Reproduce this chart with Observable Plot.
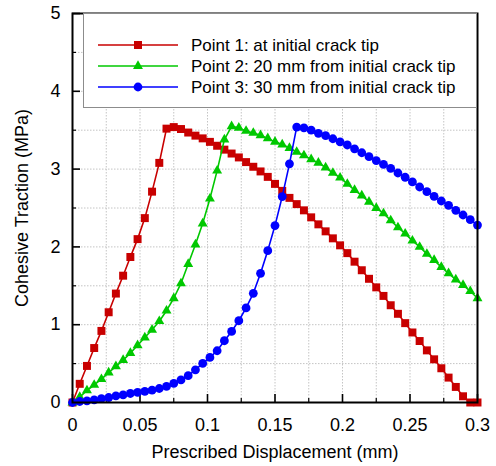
<!DOCTYPE html>
<html><head><meta charset="utf-8">
<script src="https://cdn.jsdelivr.net/npm/d3@7"></script>
<script src="https://cdn.jsdelivr.net/npm/@observablehq/plot@0.6"></script>
<style>
body{margin:0;background:#fff;font-family:"Liberation Sans",Arial,sans-serif;}
#wrap{position:relative;width:496px;height:466px;overflow:hidden;}
#legend{position:absolute;left:83px;top:13px;width:394px;height:95px;box-sizing:border-box;background:#fff;border:1px solid #8c8c8c;}
</style></head><body>
<div id="wrap"><div id="chart"></div><svg id="legend" width="394" height="95"></svg></div>
<script>
// Prescribed displacement (mm)
const displacement = [0, 0.00536, 0.01071, 0.01607, 0.02143, 0.02679, 0.03214, 0.0375, 0.04286, 0.04821,
  0.05357, 0.05893, 0.06429, 0.06964, 0.075, 0.08036, 0.08571, 0.09107, 0.09643, 0.10179,
  0.10714, 0.1125, 0.11786, 0.12321, 0.12857, 0.13393, 0.13929, 0.14464, 0.15, 0.15536,
  0.16071, 0.16607, 0.17143, 0.17679, 0.18214, 0.1875, 0.19286, 0.19821, 0.20357, 0.20893,
  0.21429, 0.21964, 0.225, 0.23036, 0.23571, 0.24107, 0.24643, 0.25179, 0.25714, 0.2625,
  0.26786, 0.27321, 0.27857, 0.28393, 0.28929, 0.29464, 0.3];
// Cohesive traction (MPa)
const point1 = [0, 0.24, 0.47, 0.70, 0.92, 1.16, 1.40, 1.63, 1.87, 2.10,
  2.37, 2.71, 3.08, 3.52, 3.54, 3.515, 3.47, 3.43, 3.395, 3.35,
  3.30, 3.25, 3.20, 3.15, 3.09, 3.03, 2.97, 2.90, 2.81, 2.72,
  2.63, 2.55, 2.47, 2.38, 2.29, 2.20, 2.11, 2.02, 1.92, 1.81,
  1.70, 1.59, 1.48, 1.37, 1.25, 1.14, 1.02, 0.90, 0.79, 0.67,
  0.555, 0.44, 0.32, 0.20, 0.08, 0, 0];
const point2 = [0, 0.07, 0.155, 0.225, 0.30, 0.385, 0.465, 0.545, 0.635, 0.735,
  0.835, 0.935, 1.045, 1.18, 1.34, 1.53, 1.78, 2.03, 2.30, 2.62,
  2.98, 3.38, 3.55, 3.53, 3.49, 3.465, 3.435, 3.395, 3.35, 3.315,
  3.27, 3.22, 3.175, 3.125, 3.08, 3.02, 2.95, 2.89, 2.81, 2.73,
  2.66, 2.58, 2.50, 2.43, 2.34, 2.25, 2.17, 2.08, 2.00, 1.91,
  1.83, 1.74, 1.66, 1.58, 1.51, 1.43, 1.34];
const point3 = [0, 0.013, 0.022, 0.035, 0.05, 0.064, 0.085, 0.099, 0.116, 0.129,
  0.142, 0.159, 0.18, 0.206, 0.245, 0.29, 0.345, 0.42, 0.502, 0.579,
  0.665, 0.794, 0.914, 1.051, 1.215, 1.403, 1.66, 1.952, 2.274, 2.647,
  3.068, 3.54, 3.53, 3.50, 3.46, 3.43, 3.39, 3.35, 3.31, 3.26,
  3.21, 3.16, 3.11, 3.06, 3.01, 2.95, 2.895, 2.835, 2.77, 2.71,
  2.65, 2.59, 2.535, 2.47, 2.41, 2.35, 2.28];

const seriesNames = ["Point 1: at initial crack tip", "Point 2: 20 mm from initial crack tip", "Point 3: 30 mm from initial crack tip"];
const seriesColors = ["#c80000", "#00c800", "#0000ff"];
const seriesSymbols = ["square", "triangle", "circle"];
const seriesRadius = [4.5, 3.7, 4.4];

const xMajorTicks = [0, 0.05, 0.1, 0.15, 0.2, 0.25, 0.3];
const xTickLabels = ["0", "0.05", "0.1", "0.15", "0.2", "0.25", "0.3"];
const xMinorTicks = [0.025, 0.075, 0.125, 0.175, 0.225, 0.275];
const yMajorTicks = [0, 1, 2, 3, 4, 5];
const yTickLabels = ["0", "1", "2", "3", "4", "5"];
const yMinorTicks = [0.5, 1.5, 2.5, 3.5, 4.5];
const xGrid = [0.025, 0.05, 0.075, 0.1, 0.125, 0.15, 0.175, 0.2, 0.225, 0.25, 0.275];
const yGrid = [0.5, 1, 1.5, 2, 2.5, 3, 3.5, 4, 4.5];
const xLabel = "Prescribed Displacement (mm)";
const yLabel = "Cohesive Traction (MPa)";

const seriesValues = [point1, point2, point3];
const tables = seriesValues.map((vals, k) => vals.map((v, i) => ({x: displacement[i], y: v, series: seriesNames[k]})));

const gridStyle = {stroke: "#c4c4c4", strokeOpacity: 1, strokeDasharray: "1.5,1.5", strokeWidth: 1};
const seriesMarks = [];
tables.forEach((t, k) => {
  seriesMarks.push(Plot.line(t, {x: "x", y: "y", stroke: seriesColors[k], strokeWidth: 1.6}));
  seriesMarks.push(Plot.dot(t, {x: "x", y: "y", fill: seriesColors[k], stroke: "none", symbol: seriesSymbols[k], r: seriesRadius[k]}));
});

const chart = Plot.plot({
  width: 496, height: 466,
  marginLeft: 72, marginRight: 19, marginTop: 13, marginBottom: 64,
  style: {fontFamily: "'Liberation Sans', Arial, sans-serif", fontSize: "18px", color: "#000", background: "#fff"},
  x: {domain: [0, 0.3]},
  y: {domain: [0, 5]},
  marks: [
    Plot.gridX(xGrid, gridStyle),
    Plot.gridY(yGrid, gridStyle),
    Plot.axisX(xMajorTicks, {tickSize: -8, strokeWidth: 1.6, tickFormat: () => "", label: null}),
    Plot.axisX(xMinorTicks, {tickSize: -4, strokeWidth: 1.2, tickFormat: () => "", label: null}),
    Plot.axisX(xMajorTicks, {tickSize: 0, tickPadding: 16, fontSize: 18, tickFormat: d => xTickLabels[xMajorTicks.indexOf(d)], label: null}),
    Plot.axisY(yMajorTicks, {tickSize: -8, strokeWidth: 1.6, tickFormat: () => "", label: null}),
    Plot.axisY(yMinorTicks, {tickSize: -4, strokeWidth: 1.2, tickFormat: () => "", label: null}),
    Plot.axisY(yMajorTicks, {tickSize: 0, tickPadding: 12, fontSize: 18, tickFormat: d => yTickLabels[yMajorTicks.indexOf(d)], label: null}),
    ...seriesMarks,
    Plot.frame({stroke: "#000", strokeWidth: 2}),
    Plot.text([xLabel], {frameAnchor: "bottom", dy: 50, lineAnchor: "middle", textAnchor: "middle", fontSize: 18, fill: "#000"}),
    Plot.text([yLabel], {frameAnchor: "left", dx: -50, rotate: -90, lineAnchor: "middle", textAnchor: "middle", fontSize: 18, fill: "#000"})
  ]
});
document.getElementById("chart").appendChild(chart);

// Legend
const leg = d3.select("#legend");
const symbolTypes = {square: d3.symbolSquare, triangle: d3.symbolTriangle, circle: d3.symbolCircle};
seriesNames.forEach((name, k) => {
  const cy = 31 + k * 21;
  leg.append("line").attr("x1", 14).attr("x2", 94).attr("y1", cy).attr("y2", cy)
    .attr("stroke", seriesColors[k]).attr("stroke-width", 1.6);
  leg.append("path").attr("transform", `translate(54,${cy})`)
    .attr("d", d3.symbol(symbolTypes[seriesSymbols[k]], Math.PI * seriesRadius[k] ** 2)())
    .attr("fill", seriesColors[k]);
  leg.append("text").attr("x", 107).attr("y", cy).attr("dy", "0.35em")
    .attr("font-size", 17).attr("font-family", "'Liberation Sans', Arial, sans-serif")
    .attr("fill", "#000").text(name);
});
</script>
</body></html>
